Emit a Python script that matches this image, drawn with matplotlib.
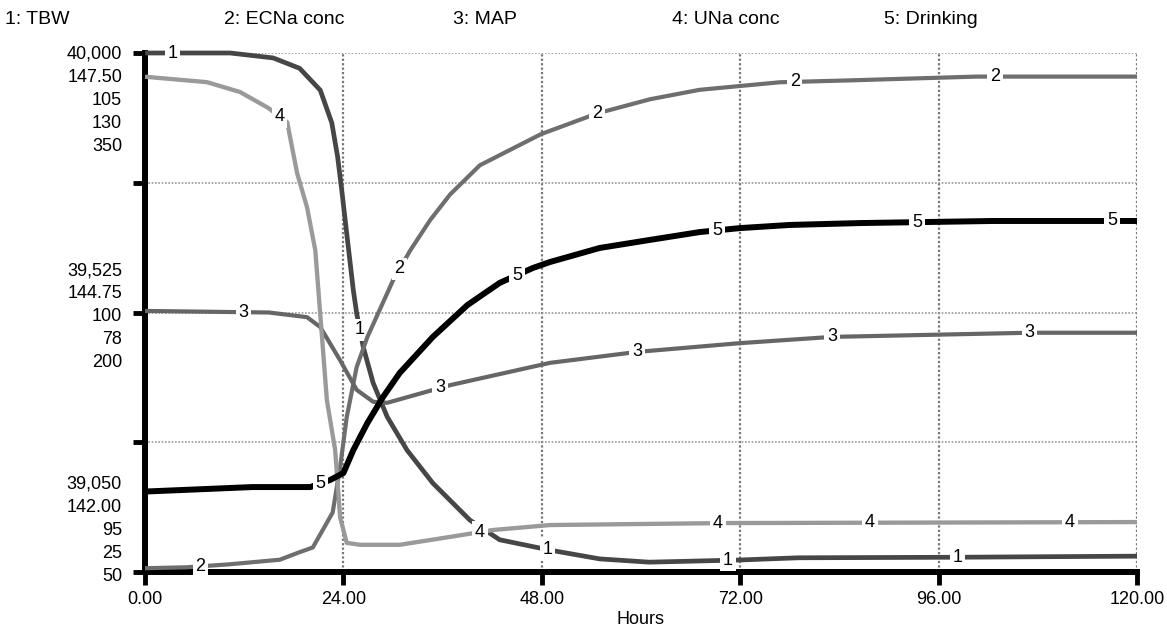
import matplotlib.pyplot as plt
import numpy as np

plt.rcParams['font.family'] = ['Liberation Sans', 'DejaVu Sans']

# series: time (hours) and values in each series' own units
tbw_t = [0, 10.3, 15.5, 18.7, 21.2, 22.6, 23.3, 23.8, 24.4, 25.2, 25.6, 26.4, 27.6, 29.3,
         31.7, 34.8, 39.3, 42.9, 49.0, 55.0, 61.0, 72.0, 79.0, 98.0, 120.0]
tbw = [40000, 40000, 39991, 39972, 39932, 39872, 39810, 39749, 39670, 39566, 39524, 39462,
       39396, 39334, 39273, 39213, 39145, 39109, 39090, 39074, 39068, 39072, 39076, 39077, 39079]

ecna_t = [0, 5, 10, 16.3, 18.7, 20.3, 22.7, 23.6, 24.4, 25.6, 26.9, 28.4, 30.0, 32.1,
          34.5, 36.9, 40.5, 47.9, 54.7, 61.1, 67.1, 76.8, 85.3, 100.6, 120.0]
ecna = [142.04, 142.05, 142.08, 142.13, 142.21, 142.26, 142.63, 143.11, 143.64, 144.17,
        144.49, 144.78, 145.09, 145.41, 145.73, 146.00, 146.31, 146.64, 146.86, 147.01,
        147.11, 147.19, 147.21, 147.25, 147.25]

map_t = [0, 15, 19.6, 21.2, 23.6, 25.6, 27.6, 29.3, 36.9, 49.0, 59.5, 72.0, 83.1, 107.0, 120.0]
map_v = [100.03, 100.0, 99.91, 99.72, 99.08, 98.51, 98.28, 98.26, 98.60, 99.03, 99.24,
         99.41, 99.53, 99.61, 99.61]

una_t = [0, 7.5, 11.5, 14.9, 17.2, 18.4, 19.6, 20.6, 22.0, 23.0, 23.3, 23.6, 24.4, 26.0,
         30.8, 36.9, 42.1, 49.0, 70.0, 120.0]
una = [125.2, 124.1, 122.1, 118.9, 116.0, 105.7, 98.8, 90.1, 59.8, 49.7, 43.0, 36.1, 30.9,
       30.5, 30.5, 32.1, 33.5, 34.5, 34.9, 35.1]

drink_t = [0, 13, 20, 22.4, 24.0, 25.2, 26.9, 28.8, 30.8, 34.8, 39.0, 42.9, 46.9, 49.0,
           55.0, 61.0, 67.1, 72.0, 78.0, 86.5, 102.6, 120.0]
drink = [96.5, 99.1, 99.1, 103.2, 107.2, 120.5, 136.1, 151.2, 165.0, 185.8, 204.3, 217.1,
         225.7, 229.2, 237.3, 241.9, 246.5, 248.8, 250.6, 251.7, 252.9, 252.9]

names = ['1: TBW', '2: ECNa conc', '3: MAP', '4: UNa conc', '5: Drinking']
lows = ['39,050', '142.00', '95', '25', '50']
mids = ['39,525', '144.75', '100', '78', '200']
highs = ['40,000', '147.50', '105', '130', '350']
ranges = [(39050, 40000), (142.0, 147.5), (95, 105), (25, 130), (50, 350)]
xticks = [0, 24, 48, 72, 96, 120]

series = [(tbw_t, tbw), (ecna_t, ecna), (map_t, map_v), (una_t, una), (drink_t, drink)]
colors = ['#464646', '#6e6e6e', '#666666', '#9a9a9a', '#000000']
widths = [3.4, 3.0, 3.0, 3.1, 4.3]
label_t = [[3.3, 26.0, 48.7, 70.5, 98.3],
           [6.7, 30.8, 54.7, 78.6, 102.8],
           [11.9, 35.7, 59.5, 83.1, 107.0],
           [16.3, 40.5, 69.3, 87.7, 111.9],
           [21.2, 45.0, 69.2, 93.4, 117.0]]

fs = 13
fig = plt.figure(figsize=(11.67, 6.36), dpi=100)
ax = fig.add_axes([145 / 1167, 1 - 572 / 636, 992 / 1167, 519 / 636])
ax.set_xlim(0, 120)
ax.set_ylim(0, 1)
ax.set_xticks(xticks)
ax.set_xticklabels(['%.2f' % v for v in xticks], fontsize=fs)
ax.set_yticks([0, 0.25, 0.5, 0.75, 1.0])
ax.set_yticklabels([])
ax.tick_params(axis='both', direction='out', length=9, width=3.5, color='black', pad=5)
for s in ['top', 'right']:
    ax.spines[s].set_visible(False)
for s in ['left', 'bottom']:
    ax.spines[s].set_linewidth(4.3)
for xv in xticks[1:]:
    ax.axvline(xv, color='#777777', lw=1.6, ls=(0, (1, 1)), zorder=0)
for yv in [0.25, 0.5, 0.75, 1.0]:
    ax.axhline(yv, color='#999999', lw=1.2, ls=(0, (1, 1)), zorder=0)
ax.set_xlabel('Hours', fontsize=fs, labelpad=2)

# stacked scale labels on the left
step = 16.6
for i in range(5):
    ax.annotate(highs[i], xy=(0, 1), xycoords='axes fraction', xytext=(-16.5, -i * step - 1),
                textcoords='offset points', ha='right', va='center', fontsize=fs)
    ax.annotate(mids[i], xy=(0, 0.5), xycoords='axes fraction', xytext=(-16.5, (2 - i) * step - 3),
                textcoords='offset points', ha='right', va='center', fontsize=fs)
    ax.annotate(lows[i], xy=(0, 0), xycoords='axes fraction', xytext=(-16.5, (4 - i) * step - 3),
                textcoords='offset points', ha='right', va='center', fontsize=fs)

# header names
header_x = [5, 224, 453, 672, 884]
for hx, name in zip(header_x, names):
    fig.text(hx / 1167, 1 - 20 / 636, name, ha='left', va='center', fontsize=14)

for i, ((t, v), (lo, hi)) in enumerate(zip(series, ranges)):
    axi = ax.twinx()
    axi.set_ylim(lo, hi)
    axi.set_xlim(0, 120)
    axi.axis('off')
    axi.plot(t, v, color=colors[i], lw=widths[i], clip_on=False, solid_capstyle='butt')
    for lt in label_t[i]:
        axi.text(lt, np.interp(lt, t, v), str(i + 1), ha='center', va='center', fontsize=fs,
                 bbox=dict(boxstyle='square,pad=0.15', fc='white', ec='none'), zorder=5)

fig.savefig('out.png', dpi=100)
